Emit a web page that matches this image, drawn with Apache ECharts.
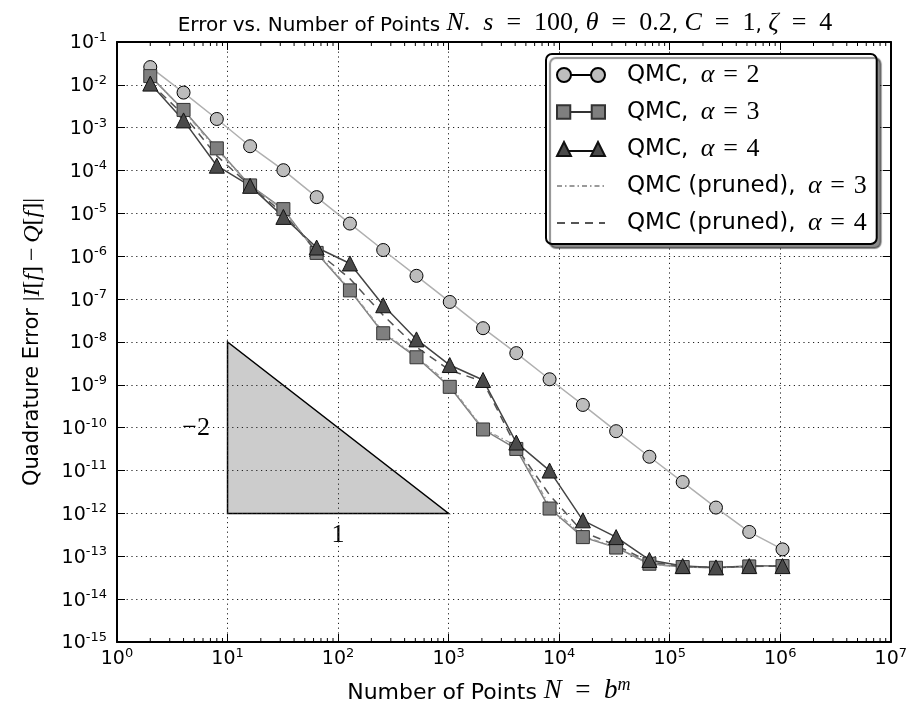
<!DOCTYPE html>
<html>
<head>
<meta charset="utf-8">
<script src="https://cdn.jsdelivr.net/npm/echarts@6/dist/echarts.min.js"></script>
<style>
  html, body { margin: 0; padding: 0; background: #fff; }
  #chart { width: 910px; height: 710px; }
</style>
</head>
<body>
<div id="chart"></div>
<script>
// number of points N = 2^m, m = 1..20
var pointsN = [2, 4, 8, 16, 32, 64, 128, 256, 512, 1024, 2048, 4096, 8192, 16384,
  32768, 65536, 131072, 262144, 524288, 1048576];

// quadrature errors
var errAlpha2 = [2.6e-2, 6.6e-3, 1.6e-3, 3.7e-4, 1.02e-4, 2.4e-5, 5.8e-6, 1.4e-6, 3.5e-7, 8.6e-8,
  2.1e-8, 5.5e-9, 1.35e-9, 3.4e-10, 8.3e-11, 2.1e-11, 5.4e-12, 1.37e-12, 3.7e-13, 1.45e-13];
var errAlpha3 = [1.6e-2, 2.6e-3, 3.3e-4, 4.5e-5, 1.26e-5, 1.2e-6, 1.6e-7, 1.6e-8, 4.4e-9, 9.0e-10,
  9.1e-11, 3.2e-11, 1.3e-12, 2.8e-13, 1.6e-13, 6.7e-14, 5.6e-14, 5.4e-14, 5.8e-14, 5.9e-14];
var errAlpha4 = [1.07e-2, 1.48e-3, 1.3e-4, 4.4e-5, 8.3e-6, 1.6e-6, 6.8e-7, 7.2e-8, 1.15e-8, 2.9e-9,
  1.3e-9, 4.5e-11, 1.0e-11, 6.9e-13, 2.8e-13, 8.2e-14, 5.9e-14, 5.5e-14, 5.9e-14, 5.9e-14];
var errPruned3 = [1.6e-2, 2.5e-3, 3.0e-4, 4.6e-5, 1.2e-5, 1.25e-6, 1.7e-7, 1.7e-8, 4.6e-9, 1.0e-9,
  9.5e-11, 3.8e-11, 1.5e-12, 3.0e-13, 1.6e-13, 6.5e-14, 5.6e-14, 5.4e-14, 5.8e-14, 5.9e-14];
var errPruned4 = [1.1e-2, 2.0e-3, 2.2e-4, 4.4e-5, 1.0e-5, 1.3e-6, 3.0e-7, 4.2e-8, 7.6e-9, 2.2e-9,
  1.2e-9, 3.5e-11, 2.7e-12, 3.7e-13, 1.8e-13, 7.4e-14, 5.8e-14, 5.5e-14, 5.8e-14, 5.9e-14];

// slope triangle and its labels
var slopeX = [10, 10, 1000];
var slopeY = [1e-8, 1e-12, 1e-12];
var slopeText = [
  { text: '\u22122', x: 5.2, y: 1e-10 },
  { text: '1', x: 100, y: 3.1e-13 }
];

// axis range in decades
var xDecades = [0, 7];
var yDecades = [-15, -1];
var minorSteps = [2, 3, 4, 5, 6, 7, 8, 9];

var xMinorTicks = [];
for (var d = xDecades[0]; d < xDecades[1]; d++) {
  minorSteps.forEach(function (s) { xMinorTicks.push(s * Math.pow(10, d)); });
}

var serif = '"Liberation Serif", "DejaVu Serif", serif';
var sans = '"DejaVu Sans", sans-serif';
var EQ = '\u2004=\u2004';
var EQW = '\u2002=\u2002';

function pairs(ys) {
  return pointsN.map(function (n, i) { return [n, ys[i]]; });
}

function powLabel(v) {
  return '{b|10}{s|' + Math.round(v) + '}';
}
var powRich = {
  b: { fontFamily: sans, fontSize: 19, color: '#000', verticalAlign: 'bottom', lineHeight: 22 },
  s: { fontFamily: sans, fontSize: 13, color: '#000', verticalAlign: 'top', lineHeight: 13 }
};

var legendRich = {
  t0: { fontFamily: sans, fontSize: 23, color: '#000', lineHeight: 26, padding: [0, 0, 0, 17] },
  m: { fontFamily: serif, fontStyle: 'italic', fontSize: 26, color: '#000', lineHeight: 26 },
  r: { fontFamily: serif, fontSize: 26, color: '#000', lineHeight: 26 }
};
function legendText(prefix, a) {
  return '{t0|' + prefix + '}{r|\u2009}{m|α}{r|' + EQ + a + '}';
}
var legendLabels = {
  'QMC, α=2': legendText('QMC, ', 2),
  'QMC, α=3': legendText('QMC, ', 3),
  'QMC, α=4': legendText('QMC, ', 4),
  'QMC (pruned), α=3': legendText('QMC (pruned), ', 3),
  'QMC (pruned), α=4': legendText('QMC (pruned), ', 4)
};

var iconCircles = 'path://M0,7A7,7 0 1,1 14,7A7,7 0 1,1 0,7Z M14,7L34,7 M34,7A7,7 0 1,1 48,7A7,7 0 1,1 34,7Z';
var iconSquares = 'path://M0.5,0.5L13.5,0.5L13.5,13.5L0.5,13.5Z M13.5,7L34.5,7 M34.5,0.5L47.5,0.5L47.5,13.5L34.5,13.5Z';
var iconTriangles = 'path://M0,14L7,0L14,14Z M11,9L37,9 M34,14L41,0L48,14Z';

var chart = echarts.init(document.getElementById('chart'));

var gridDots = { color: '#222', width: 1, type: [1.2, 3.6] };
var nameRich = {
  t: { fontFamily: sans, fontSize: 22, fontWeight: 'normal', color: '#000', verticalAlign: 'bottom', lineHeight: 28 },
  m: { fontFamily: serif, fontStyle: 'italic', fontSize: 27, color: '#000', verticalAlign: 'bottom', lineHeight: 28 },
  r: { fontFamily: serif, fontSize: 27, color: '#000', verticalAlign: 'bottom', lineHeight: 28 },
  s: { fontFamily: serif, fontStyle: 'italic', fontSize: 18, color: '#000', verticalAlign: 'top', lineHeight: 16 }
};

chart.setOption({
  animation: false,
  backgroundColor: '#fff',
  title: {
    text: '{t|Error vs. Number of Points }{m|N}{r|.\u2002}{m|s}{r|' + EQW + '100}{t|, }' +
      '{m|θ}{r|' + EQW + '0.2}{t|, }{m|C}{r|' + EQW + '1}{t|, }{m|ζ}{r|' + EQW + '4}',
    left: 500,
    top: 3,
    textAlign: 'center',
    textStyle: {
      fontWeight: 'normal',
      rich: {
        t: { fontFamily: sans, fontSize: 20, fontWeight: 'normal', color: '#000', verticalAlign: 'bottom', lineHeight: 28 },
        m: { fontFamily: serif, fontStyle: 'italic', fontWeight: 'normal', fontSize: 26, color: '#000', verticalAlign: 'bottom', lineHeight: 28 },
        r: { fontFamily: serif, fontWeight: 'normal', fontSize: 26, color: '#000', verticalAlign: 'bottom', lineHeight: 28 }
      }
    }
  },
  legend: {
    left: 546,
    top: 54,
    orient: 'vertical',
    itemWidth: 48,
    itemHeight: 14,
    itemGap: 11,
    padding: [8, 10, 8, 10],
    backgroundColor: '#fff',
    borderColor: '#000',
    borderWidth: 2,
    borderRadius: 6,
    shadowColor: 'rgba(0,0,0,0.45)',
    shadowOffsetX: 4,
    shadowOffsetY: 4,
    shadowBlur: 1,
    data: [
      { name: 'QMC, α=2', icon: iconCircles },
      { name: 'QMC, α=3', icon: iconSquares },
      { name: 'QMC, α=4', icon: iconTriangles },
      { name: 'QMC (pruned), α=3', itemStyle: { opacity: 0 } },
      { name: 'QMC (pruned), α=4', itemStyle: { opacity: 0 } }
    ],
    formatter: function (name) { return legendLabels[name]; },
    textStyle: { fontFamily: sans, fontSize: 23, lineHeight: 26, rich: legendRich }
  },
  grid: { left: 117, top: 42, width: 776, height: 600 },
  xAxis: [
    {
      type: 'log', logBase: 10, min: 1, max: 1e7,
      axisLine: { show: false }, axisTick: { show: false },
      axisLabel: { show: false }, splitLine: { show: false }
    },
    {
      type: 'value', position: 'bottom', min: xDecades[0], max: xDecades[1], interval: 1,
      name: '{t|Number of Points }{m|N}{r|' + EQW + '}{m|b}{s|m}',
      nameLocation: 'middle',
      nameGap: 34,
      nameTextStyle: { padding: [0, 30, 0, 0], rich: nameRich },
      axisLine: { show: true, lineStyle: { color: '#000', width: 2 } },
      axisTick: { show: true, inside: true, length: 8, lineStyle: { color: '#000', width: 1 } },
      axisLabel: { margin: 5, formatter: powLabel, rich: powRich },
      splitLine: { show: true, lineStyle: gridDots }
    },
    {
      type: 'value', position: 'top', min: xDecades[0], max: xDecades[1], interval: 1,
      axisLine: { show: true, lineStyle: { color: '#000', width: 2 } },
      axisTick: { show: true, inside: true, length: 8, lineStyle: { color: '#000', width: 1 } },
      axisLabel: { show: false }, splitLine: { show: false }
    }
  ],
  yAxis: [
    {
      type: 'log', logBase: 10, min: 1e-15, max: 1e-1,
      axisLine: { show: false }, axisTick: { show: false },
      axisLabel: { show: false }, splitLine: { show: false }
    },
    {
      type: 'value', position: 'left', min: yDecades[0], max: yDecades[1], interval: 1,
      name: '{t|Quadrature Error }{r||}{m|I}{r|[}{m|f}{r|]\u2009\u2212\u2009}{m|Q}{r|[}{m|f}{r|]|}',
      nameLocation: 'middle',
      nameGap: 72,
      nameTextStyle: {
        rich: {
          t: { fontFamily: sans, fontSize: 21, color: '#000' },
          m: { fontFamily: serif, fontStyle: 'italic', fontSize: 24, color: '#000' },
          r: { fontFamily: serif, fontSize: 24, color: '#000' }
        }
      },
      axisLine: { show: true, lineStyle: { color: '#000', width: 2 } },
      axisTick: { show: true, inside: true, length: 8, lineStyle: { color: '#000', width: 1 } },
      axisLabel: { margin: 10, formatter: powLabel, rich: powRich },
      splitLine: { show: true, lineStyle: gridDots }
    },
    {
      type: 'value', position: 'right', min: yDecades[0], max: yDecades[1], interval: 1,
      axisLine: { show: true, lineStyle: { color: '#000', width: 2 } },
      axisTick: { show: true, inside: true, length: 8, lineStyle: { color: '#000', width: 1 } },
      axisLabel: { show: false }, splitLine: { show: false }
    }
  ],
  series: [
    {
      type: 'custom', name: 'slope', silent: true, z: -1,
      xAxisIndex: 0, yAxisIndex: 0,
      data: [[slopeX[0], slopeY[0]]],
      renderItem: function (params, api) {
        var pts = slopeX.map(function (x, i) { return api.coord([x, slopeY[i]]); });
        var kids = [{
          type: 'polygon', shape: { points: pts },
          style: { fill: '#cccccc', stroke: '#000', lineWidth: 1.5 }
        }];
        slopeText.forEach(function (t) {
          var p = api.coord([t.x, t.y]);
          kids.push({
            type: 'text', x: p[0], y: p[1],
            style: { text: t.text, fill: '#000', font: '26px ' + serif, align: 'center', verticalAlign: 'middle' }
          });
        });
        return { type: 'group', children: kids };
      }
    },
    {
      type: 'custom', name: 'minor', silent: true, z: 5,
      xAxisIndex: 0, yAxisIndex: 0,
      data: xMinorTicks.map(function (v) { return [v, 1e-15]; }),
      renderItem: function (params, api) {
        var v = api.value(0);
        var b = api.coord([v, 1e-15]);
        var t = api.coord([v, 1e-1]);
        return {
          type: 'group', children: [
            { type: 'line', shape: { x1: b[0], y1: b[1], x2: b[0], y2: b[1] - 4 }, style: { stroke: '#000', lineWidth: 1 } },
            { type: 'line', shape: { x1: t[0], y1: t[1], x2: t[0], y2: t[1] + 4 }, style: { stroke: '#000', lineWidth: 1 } }
          ]
        };
      }
    },
    {
      name: 'QMC, α=2', type: 'line', xAxisIndex: 0, yAxisIndex: 0,
      data: pairs(errAlpha2),
      symbol: 'circle', symbolSize: 13,
      lineStyle: { color: '#b0b0b0', width: 1.5 },
      itemStyle: { color: '#bdbdbd', borderColor: '#000', borderWidth: 1 }
    },
    {
      name: 'QMC, α=3', type: 'line', xAxisIndex: 0, yAxisIndex: 0,
      data: pairs(errAlpha3),
      symbol: 'rect', symbolSize: 13,
      lineStyle: { color: '#808080', width: 1.5 },
      itemStyle: { color: '#7f7f7f', borderColor: '#333', borderWidth: 1 }
    },
    {
      name: 'QMC, α=4', type: 'line', xAxisIndex: 0, yAxisIndex: 0,
      data: pairs(errAlpha4),
      symbol: 'triangle', symbolSize: 15,
      lineStyle: { color: '#444', width: 1.5 },
      itemStyle: { color: '#4a4a4a', borderColor: '#111', borderWidth: 1 }
    },
    {
      name: 'QMC (pruned), α=3', type: 'line', xAxisIndex: 0, yAxisIndex: 0,
      data: pairs(errPruned3),
      symbol: 'none',
      lineStyle: { color: '#9a9a9a', width: 1.3, type: [5, 3, 1.5, 3] },
      itemStyle: { color: '#9a9a9a' }
    },
    {
      name: 'QMC (pruned), α=4', type: 'line', xAxisIndex: 0, yAxisIndex: 0,
      data: pairs(errPruned4),
      symbol: 'none',
      lineStyle: { color: '#555', width: 1.5, type: [8, 6] },
      itemStyle: { color: '#555' }
    }
  ]
});
</script>
</body>
</html>
